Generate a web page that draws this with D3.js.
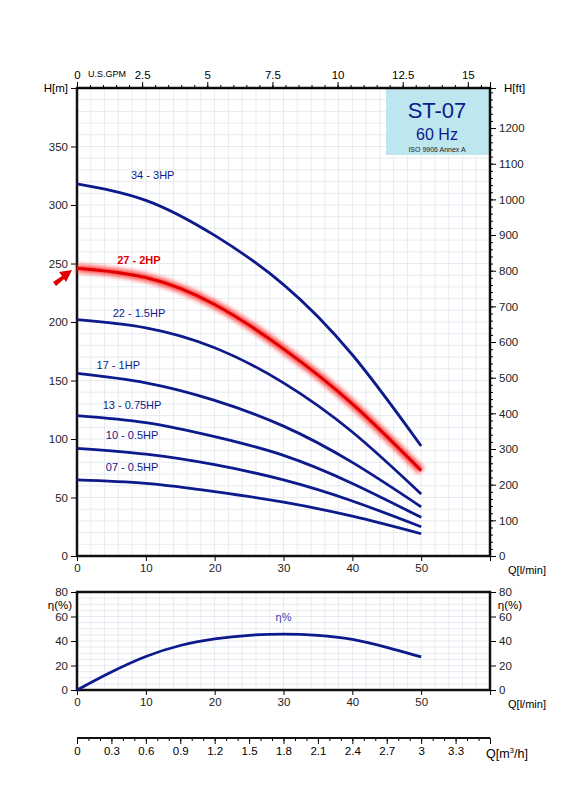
<!DOCTYPE html>
<html><head><meta charset="utf-8">
<script src="https://cdn.jsdelivr.net/npm/d3@7"></script>
<style>body{margin:0;background:#fff}text{font-family:Arial,"Liberation Sans",sans-serif}</style>
</head><body>
<script>
var flows = [0, 10, 20, 30, 40, 50];
var curveNames = ["34 - 3HP", "27 - 2HP", "22 - 1.5HP", "17 - 1HP", "13 - 0.75HP", "10 - 0.5HP", "07 - 0.5HP"];
var heads = [
  [318, 304, 274, 232, 172, 94],
  [246, 238, 215, 177, 130, 73],
  [202, 195, 178, 148, 106, 53],
  [156, 148, 133, 111, 80, 42],
  [120, 114, 102, 86, 62, 33],
  [92, 87, 78, 65, 47, 25],
  [65, 62, 55, 46, 34, 19]
];
var labelPos = [[11, 322], [9, 250], [9, 204], [6, 160], [8, 126], [8, 100], [8, 73]];
var effFlows = [0, 5, 10, 15, 20, 25, 30, 35, 40, 45, 50];
var eff = [0, 15, 28, 37, 42, 45, 46, 45, 42, 35, 27];
var gpmTicks = [0, 2.5, 5, 7.5, 10, 12.5, 15];
var m3hTicks = [0, 0.3, 0.6, 0.9, 1.2, 1.5, 1.8, 2.1, 2.4, 2.7, 3, 3.3];

var svg = d3.select("body").append("svg").attr("width", 566).attr("height", 800);
var blue = "#0d1a8c";
var x = d3.scaleLinear().domain([0, 60]).range([77, 490]);
var y = d3.scaleLinear().domain([0, 400]).range([556, 88]);
var ye = d3.scaleLinear().domain([0, 80]).range([690, 592]);

function grid(yy, step) {
  var g = svg.append("g").attr("stroke", "#dde3ea").attr("stroke-width", 0.7);
  d3.range(0, 61, 2).forEach(function (v) { g.append("line").attr("x1", x(v)).attr("x2", x(v)).attr("y1", yy.range()[0]).attr("y2", yy.range()[1]); });
  d3.range(0, yy.domain()[1] + 0.1, step).forEach(function (v) { g.append("line").attr("x1", 77).attr("x2", 490).attr("y1", yy(v)).attr("y2", yy(v)); });
}
grid(y, 10); grid(ye, 5);

// title box
svg.append("rect").attr("x", 386).attr("y", 89).attr("width", 103).attr("height", 66).attr("fill", "#bde6ef");
svg.append("text").attr("x", 437).attr("y", 118).attr("text-anchor", "middle").attr("font-size", 22).attr("fill", blue).text("ST-07");
svg.append("text").attr("x", 437).attr("y", 140).attr("text-anchor", "middle").attr("font-size", 16).attr("fill", blue).text("60 Hz");
svg.append("text").attr("x", 437).attr("y", 152).attr("text-anchor", "middle").attr("font-size", 7).attr("fill", "#222").text("ISO 9906 Annex A");

function axes(yy, leftTicks, rightScale, rightTicks) {
  svg.append("g").attr("transform", "translate(0," + yy.range()[0] + ")")
    .call(d3.axisBottom(x).tickValues([0, 10, 20, 30, 40, 50]).tickSize(5).tickFormat(d3.format("d")));
  svg.append("g").attr("transform", "translate(77,0)").call(d3.axisLeft(yy).tickValues(leftTicks).tickSize(6).tickFormat(d3.format("d")));
  svg.append("g").attr("transform", "translate(490,0)").call(d3.axisRight(rightScale).tickValues(rightTicks).tickSize(6).tickFormat(d3.format("d")));
  svg.append("rect").attr("x", 77).attr("y", yy.range()[1]).attr("width", 413).attr("height", yy.range()[0] - yy.range()[1])
    .attr("fill", "none").attr("stroke", "#111").attr("stroke-width", 2.5);
  svg.append("text").attr("x", 527).attr("y", yy.range()[0] + 18).attr("text-anchor", "middle").attr("font-size", 11).text("Q[l/min]");
}
var yft = d3.scaleLinear().domain([0, 400 * 3.2808]).range([556, 88]);
axes(y, d3.range(0, 351, 50), yft, d3.range(0, 1201, 100));
var yft2 = d3.scaleLinear().domain([0, 80]).range([690, 592]);
axes(ye, [0, 20, 40, 60, 80], yft2, [0, 20, 40, 60, 80]);
svg.selectAll(".tick text").attr("font-size", 11.5).attr("fill", "#222");
svg.selectAll(".domain").attr("stroke", "#111");

// minor ft ticks
svg.append("g").attr("transform", "translate(490,0)").call(d3.axisRight(yft).ticks(65).tickSize(3).tickFormat(""));

// GPM top axis
var xg = d3.scaleLinear().domain([0, 60 / 3.7854]).range([77, 490]);
var tg = svg.append("g").attr("transform", "translate(0,88)").call(d3.axisTop(xg).tickValues(gpmTicks).tickSize(6).tickFormat(d3.format("")));
tg.selectAll("text").attr("font-size", 11.5);
svg.append("g").attr("transform", "translate(0,88)").call(d3.axisTop(xg).tickValues(d3.range(0, 15.9, 0.5)).tickSize(3).tickFormat(""));
svg.append("text").attr("x", 88).attr("y", 77).attr("font-size", 9).text("U.S.GPM");
svg.append("text").attr("x", 68).attr("y", 92).attr("text-anchor", "end").attr("font-size", 11.5).text("H[m]");
svg.append("text").attr("x", 504).attr("y", 92).attr("font-size", 11.5).text("H[ft]");
svg.append("text").attr("x", 60).attr("y", 609).attr("text-anchor", "middle").attr("font-size", 11.5).text("η(%)");
svg.append("text").attr("x", 510).attr("y", 609).attr("text-anchor", "middle").attr("font-size", 11.5).text("η(%)");

// m3/h axis
var xm = d3.scaleLinear().domain([0, 60 * 0.06]).range([77, 490]);
var am = svg.append("g").attr("transform", "translate(0,738)").call(d3.axisBottom(xm).tickValues(m3hTicks).tickSize(6).tickFormat(d3.format("")));
am.selectAll("text").attr("font-size", 11.5);
svg.append("g").attr("transform", "translate(0,738)").call(d3.axisBottom(xm).tickValues(d3.range(0, 3.6, 0.1)).tickSize(3).tickFormat(""));
svg.append("line").attr("x1", 77).attr("x2", 490).attr("y1", 738).attr("y2", 738).attr("stroke", "#111").attr("stroke-width", 2);
svg.append("text").attr("x", 486).attr("y", 758).attr("font-size", 12.5).html('Q[m<tspan font-size="8" dy="-5">3</tspan><tspan dy="5">/h]</tspan>');

// curves
var line = d3.line().x(function (d) { return x(d[0]); }).y(function (d) { return y(d[1]); }).curve(d3.curveNatural);
svg.append("defs").append("filter").attr("id", "glow").append("feGaussianBlur").attr("stdDeviation", 2);
heads.forEach(function (h, i) {
  var pts = flows.map(function (q, j) { return [q, h[j]]; });
  if (i === 1) {
    svg.append("path").attr("d", line(pts)).attr("fill", "none").attr("stroke", "#ff2020").attr("stroke-width", 8).attr("filter", "url(#glow)").attr("opacity", 0.8);
    svg.append("path").attr("d", line(pts)).attr("fill", "none").attr("stroke", "#e00000").attr("stroke-width", 3);
  } else {
    svg.append("path").attr("d", line(pts)).attr("fill", "none").attr("stroke", blue).attr("stroke-width", 2.8);
  }
  svg.append("text").attr("x", x(labelPos[i][0])).attr("y", y(labelPos[i][1])).attr("text-anchor", "middle")
    .attr("font-size", 11).attr("font-weight", i === 1 ? "bold" : "normal").attr("fill", i === 1 ? "#e00000" : blue).text(curveNames[i]);
});
// red arrow
svg.append("path").attr("d", "M53,282 L62,276 L59,272 L72,270 L66,282 L64,279 L56,286 Z").attr("fill", "#e00000");

var le = d3.line().x(function (d) { return x(d[0]); }).y(function (d) { return ye(d[1]); }).curve(d3.curveBasis);
svg.append("path").attr("d", le(effFlows.map(function (q, j) { return [q, eff[j]]; }))).attr("fill", "none").attr("stroke", blue).attr("stroke-width", 2.8);
svg.append("text").attr("x", x(30)).attr("y", ye(56)).attr("text-anchor", "middle").attr("font-size", 11).attr("fill", "#3a44b0").text("η%");
</script>
</body></html>
